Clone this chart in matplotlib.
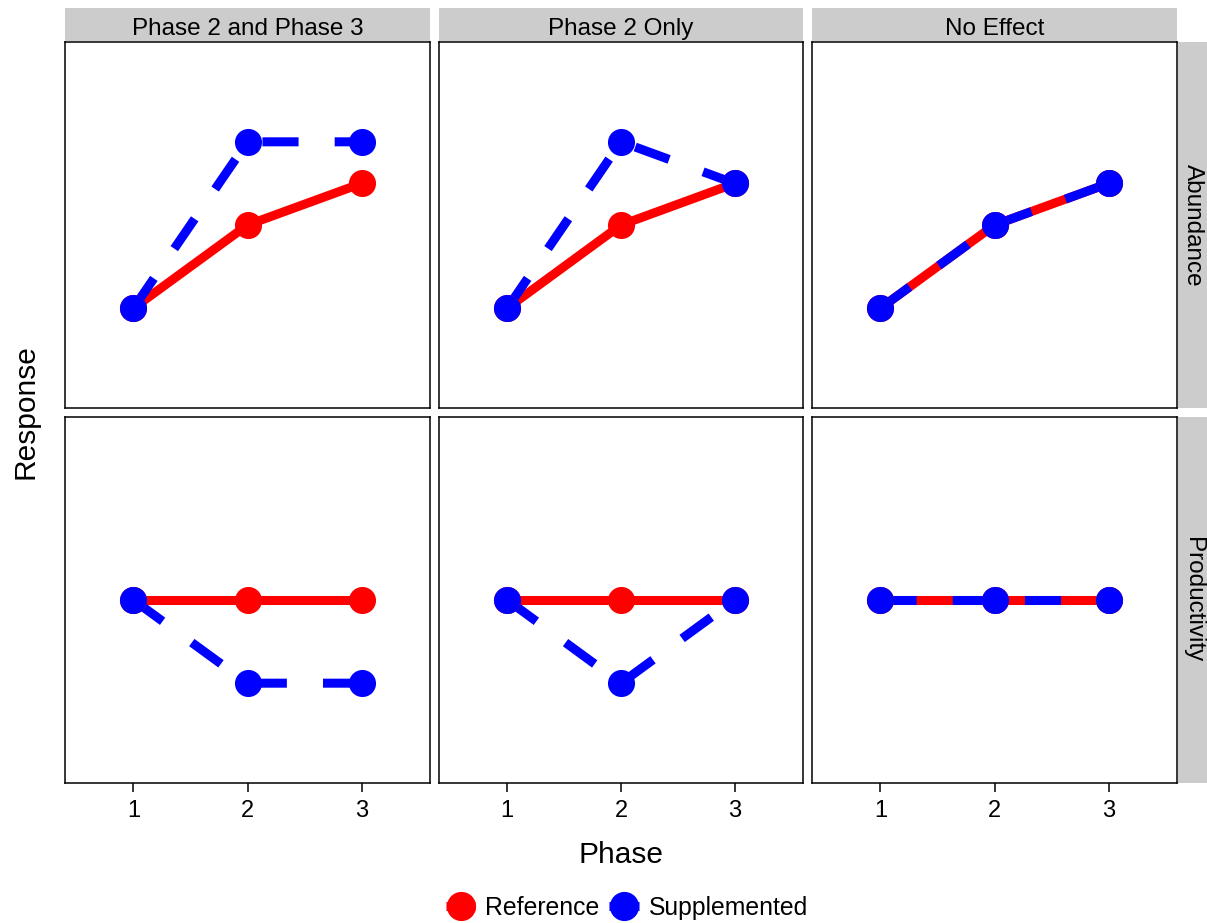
import matplotlib
matplotlib.use("Agg")
import matplotlib.pyplot as plt
from matplotlib.lines import Line2D
from matplotlib.patches import Rectangle

plt.rcParams['font.family'] = ['Liberation Sans', 'DejaVu Sans']

# data
phases = [1, 2, 3]
effects = ["Phase 2 and Phase 3", "Phase 2 Only", "No Effect"]
responses = ["Abundance", "Productivity"]

ref_abundance = [1, 2, 2.5]
ref_productivity = [2, 2, 2]

supp_abundance_p23 = [1, 3, 3]
supp_abundance_p2 = [1, 3, 2.5]
supp_abundance_none = [1, 2, 2.5]
supp_productivity_p23 = [2, 1, 1]
supp_productivity_p2 = [2, 1, 2]
supp_productivity_none = [2, 2, 2]

reference = {"Abundance": [ref_abundance] * 3, "Productivity": [ref_productivity] * 3}
supplemented = {"Abundance": [supp_abundance_p23, supp_abundance_p2, supp_abundance_none],
                "Productivity": [supp_productivity_p23, supp_productivity_p2, supp_productivity_none]}

red = "#FF0000"
blue = "#0000FF"

W, H = 1207, 923
fig = plt.figure(figsize=(W / 100, H / 100), dpi=100)


def px_axes(x0, y0, x1, y1):
    return fig.add_axes([x0 / W, 1 - y1 / H, (x1 - x0) / W, (y1 - y0) / H])


col_x = [(65, 430), (439, 803), (812, 1177)]
row_y = [(42, 408), (417, 783)]

lw = 6.5
ms = 19.5
dash = (4.0, 4.0)
for r, resp in enumerate(responses):
    for c, eff in enumerate(effects):
        x0, x1 = col_x[c]
        y0, y1 = row_y[r]
        ax = px_axes(x0, y0, x1, y1)
        ax.plot(phases, reference[resp][c], color=red, lw=lw, solid_capstyle='butt', zorder=2)
        ax.plot(phases, supplemented[resp][c], color=blue, lw=lw, dashes=dash,
                dash_capstyle='butt', zorder=3)
        ax.plot(phases, reference[resp][c], 'o', color=red, ms=ms, mew=0, zorder=4)
        ax.plot(phases, supplemented[resp][c], 'o', color=blue, ms=ms, mew=0, zorder=5)
        ax.set_xlim(0.4, 3.6)
        ax.set_ylim(-0.2, 4.2)
        ax.set_yticks([])
        ax.set_xticks(phases)
        for s in ax.spines.values():
            s.set_linewidth(1.1)
            s.set_color("black")
        if r == 1:
            ax.set_xticklabels([str(p) for p in phases], fontsize=17)
            ax.tick_params(axis='x', length=6.5, width=1.1, pad=6, colors='black')
        else:
            ax.tick_params(axis='x', length=0, labelbottom=False)

        # top strips
        if r == 0:
            sax = px_axes(x0, 8, x1, 41)
            sax.add_patch(Rectangle((0, 0), 1, 1, color="#CCCCCC", transform=sax.transAxes))
            sax.text(0.5, 0.19, eff, ha='center', va='baseline', fontsize=17.5)
            sax.axis('off')
    # right strips
    y0, y1 = row_y[r]
    rax = px_axes(1178, y0, 1207, y1)
    rax.add_patch(Rectangle((0, 0), 1, 1, color="#CCCCCC", transform=rax.transAxes))
    rax.text(0.5, 0.5, resp, ha='center', va='center', rotation=-90, fontsize=17.5)
    rax.axis('off')

fig.text(621 / W, 1 - 855 / H, "Phase", ha='center', va='center', fontsize=21.5)
fig.text(25 / W, 1 - 412 / H, "Response", ha='center', va='center', rotation=90, fontsize=21.5)

handles = [Line2D([0], [0], color=red, lw=lw, marker='o', ms=21, mew=0, solid_capstyle='butt'),
           Line2D([0], [0], color=blue, lw=lw, marker='o', ms=21, mew=0, solid_capstyle='butt')]
fig.legend(handles, ["Reference", "Supplemented"], loc='center', bbox_to_anchor=(627 / W, 1 - 908 / H),
           ncol=2, frameon=False, fontsize=17.8, handlelength=1.2, handletextpad=0.4,
           columnspacing=0.4)

fig.savefig("out.png", dpi=100)
